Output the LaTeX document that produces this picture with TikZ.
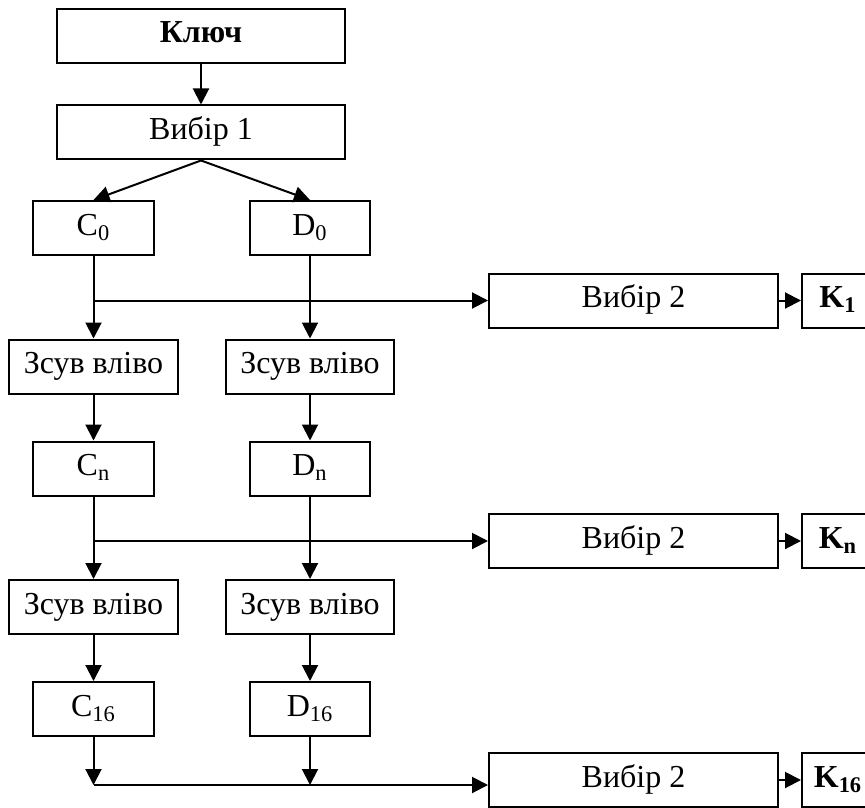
\documentclass[tikz,border=0pt]{standalone}
\usepackage{fontspec}
\setmainfont{Liberation Serif}
\usetikzlibrary{arrows.meta}

\begin{document}
\begin{tikzpicture}[x=0.5pt, y=-0.5pt,
    blok/.style={draw, line width=1pt, minimum height=27pt, inner sep=0pt,
      text height=11pt, text depth=4pt, font=\fontsize{16}{19}\selectfont},
    arr/.style={-{Triangle[length=8pt,width=8pt]}, line width=1pt}]
      \useasboundingbox (0,0) rectangle (865,807);
      \clip (0,0) rectangle (865,807);

      \node [blok, minimum width=144pt] (kluch) at (201,36) {\textbf{Ключ}};
      \node [blok, minimum width=144pt] (vybir1) at (201,132.5) {Вибір 1};
      \node [blok, minimum width=60.5pt] (c0) at (93.5,228) {C\textsubscript{0}};
      \node [blok, minimum width=60pt] (d0) at (310,228) {D\textsubscript{0}};
      \draw [arr] (kluch) -- (vybir1);
      \draw [arr] (vybir1.south) -- (c0.north);
      \draw [arr] (vybir1.south) -- (d0.north);

      \node [blok, minimum width=144.5pt] (vybir2a) at (633.5,300.5) {Вибір 2};
      \node [blok, minimum width=36pt] (k1) at (838,300.5) {\textbf{K\textsubscript{1}}};
      \node [blok, minimum width=84.5pt] (zc1) at (93.5,366.5) {Зсув вліво};
      \node [blok, minimum width=84pt] (zd1) at (310,366.5) {Зсув вліво};
      \draw [arr] (c0) -- (zc1);
      \draw [arr] (d0) -- (zd1);
      \draw [arr] (c0.south |- vybir2a.west) -- (vybir2a);
      \draw [arr] (vybir2a) -- (k1);

      \node [blok, minimum width=60.5pt] (cn) at (93.5,468.5) {C\textsubscript{n}};
      \node [blok, minimum width=60pt] (dn) at (310,468.5) {D\textsubscript{n}};
      \draw [arr] (zc1) -- (cn);
      \draw [arr] (zd1) -- (dn);

      \node [blok, minimum width=144.5pt] (vybir2b) at (633.5,541) {Вибір 2};
      \node [blok, minimum width=36pt] (kn) at (838,541) {\textbf{K\textsubscript{n}}};
      \node [blok, minimum width=84.5pt] (zc2) at (93.5,607) {Зсув вліво};
      \node [blok, minimum width=84pt] (zd2) at (310,607) {Зсув вліво};
      \draw [arr] (cn) -- (zc2);
      \draw [arr] (dn) -- (zd2);
      \draw [arr] (cn.south |- vybir2b.west) -- (vybir2b);
      \draw [arr] (vybir2b) -- (kn);

      \node [blok, minimum width=60.5pt] (c16) at (93.5,709) {C\textsubscript{16}};
      \node [blok, minimum width=60pt] (d16) at (310,709) {D\textsubscript{16}};
      \draw [arr] (zc2) -- (c16);
      \draw [arr] (zd2) -- (d16);

      \node [blok, minimum width=144.5pt] (vybir2c) at (633.5,780) {Вибір 2};
      \node [blok, minimum width=36pt] (k16) at (838,780) {\textbf{K\textsubscript{16}}};
      \coordinate (j3) at (93.5,785);
      \draw [arr] (c16) -- (j3);
      \draw [arr] (d16) -- (d16.south |- j3);
      \draw [arr] (j3) -- (vybir2c.west |- j3);
      \draw [arr] (vybir2c) -- (k16);
\end{tikzpicture}
\end{document}
